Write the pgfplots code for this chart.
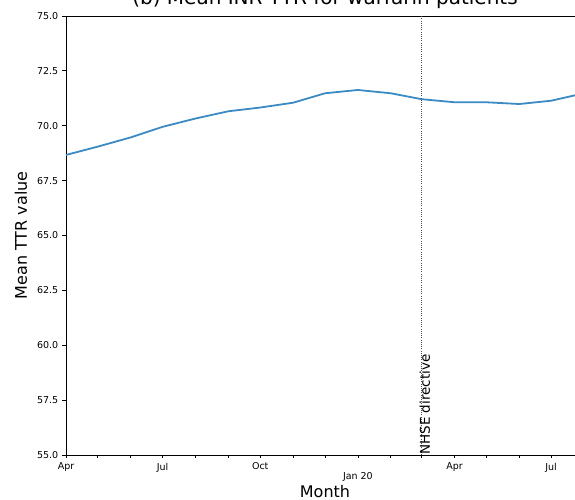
\documentclass[border=0pt]{standalone}
\usepackage{pgfplots}
\pgfplotsset{compat=1.18}
\usepackage{fontspec}
\setmainfont{DejaVu Sans}
\definecolor{lineblue}{RGB}{58,138,196}
\begin{document}
\begin{tikzpicture}
\useasboundingbox (0pt,0pt) rectangle (575pt,499pt);
\clip (0pt,0pt) rectangle (575pt,499pt);
\begin{axis}[
  at={(66pt,44pt)}, anchor=south west,
  width=518pt, height=439pt, scale only axis,
  xmin=0, xmax=488, ymin=55, ymax=75,
  axis line style={line width=0.8pt},
  tick align=outside, xtick pos=bottom, ytick pos=left,
  tick style={line width=0.8pt, black},
  ytick={55,57.5,60,62.5,65,67.5,70,72.5,75},
  yticklabel style={/pgf/number format/.cd, fixed, fixed zerofill, precision=1},
  /pgf/number format/assume math mode=true,
  ytick style={/pgfplots/major tick length=3.5pt},
  xtick={0,91,183,366,457},
  xticklabels={Apr,Jul,Oct,Apr,Jul},
  xtick style={/pgfplots/major tick length=2.5pt},
  minor xtick={30,61,122,153,214,244,306,335,396,427},
  minor tick length=2.5pt,
  extra x ticks={275},
  extra x tick labels={Jan 20},
  extra x tick style={/pgfplots/major tick length=12pt, xticklabel style={yshift=-2pt}},
  tick label style={font=\fontsize{9.5}{11}\selectfont},
  title={(b) Mean INR TTR for warfarin patients},
  every axis title/.style={at={(axis description cs:0.5,1.0251)}, anchor=base, font=\fontsize{20}{24}\selectfont},
  xlabel={Month},
  every axis x label/.style={at={(axis description cs:0.5,-0.0979)}, anchor=base, font=\fontsize{16}{19}\selectfont},
  ylabel={Mean TTR value},
  every axis y label/.style={at={(axis description cs:-0.0869,0.5)}, anchor=center, rotate=90, font=\fontsize{16}{19}\selectfont},
]
\addplot[lineblue, line width=1.8pt] coordinates {
(0,68.67) (30,69.05) (61,69.47) (91,69.95) (122,70.33) (153,70.66) (183,70.83)
(214,71.05) (244,71.48) (275,71.63) (306,71.48) (335,71.21) (366,71.07)
(396,71.07) (427,70.99) (457,71.14) (488,71.48)
};
\addplot[black!70, line width=1pt, dash pattern=on 1pt off 1.2pt] coordinates {(335,55) (335,75)};
\node[rotate=90, anchor=west, inner sep=0pt, font=\fontsize{13.5}{16}\selectfont] at (axis cs:338,55) {NHSE directive};
\end{axis}
\end{tikzpicture}
\end{document}
